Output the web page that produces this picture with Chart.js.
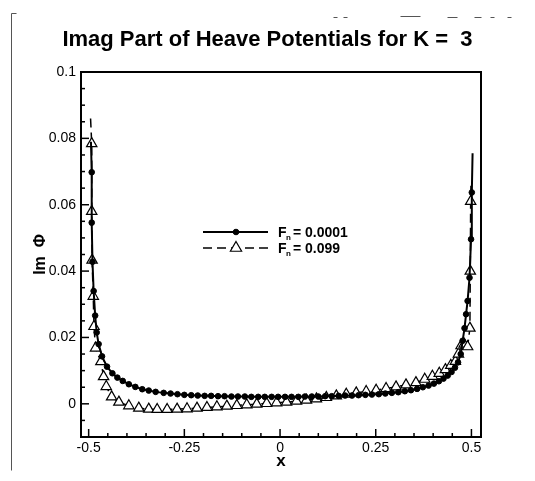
<!DOCTYPE html>
<html>
<head>
<meta charset="utf-8">
<title>Imag Part of Heave Potentials for K = 3</title>
<script src="https://cdn.jsdelivr.net/npm/chart.js@4/dist/chart.umd.min.js"></script>
<style>
  html, body { margin: 0; padding: 0; background: #fff; }
  #chart { display: block; }
</style>
</head>
<body>
<canvas id="chart" width="535" height="481"></canvas>
<script>
// Imag part of heave potentials, K = 3

const FONT = "'Liberation Sans', Arial, Helvetica, sans-serif";

// Fn = 0.0001 (solid line, filled dots)
const x1 = [-0.494, -0.492, -0.492, -0.490, -0.487, -0.483, -0.479, -0.474, -0.465, -0.452,
  -0.438, -0.425, -0.411, -0.395, -0.378, -0.360, -0.343, -0.325, -0.304, -0.286,
  -0.268, -0.250, -0.232, -0.215, -0.197, -0.180, -0.162, -0.145, -0.127, -0.110,
  -0.092, -0.075, -0.057, -0.040, -0.022, -0.005, 0.013, 0.030, 0.048, 0.065,
  0.083, 0.100, 0.118, 0.135, 0.153, 0.170, 0.188, 0.205, 0.223, 0.240,
  0.258, 0.275, 0.292, 0.309, 0.326, 0.342, 0.358, 0.373, 0.388, 0.402,
  0.415, 0.427, 0.438, 0.448, 0.457, 0.465, 0.472, 0.477, 0.482, 0.486,
  0.490, 0.495, 0.499, 0.501, 0.503];
const y1 = [0.079, 0.0698, 0.0546, 0.0428, 0.0340, 0.0266, 0.0215, 0.0180, 0.0143, 0.0112,
  0.0092, 0.0079, 0.0069, 0.0059, 0.0051, 0.0044, 0.0040, 0.0036, 0.0033, 0.0031,
  0.0029, 0.0027, 0.0026, 0.0025, 0.0024, 0.0024, 0.0023, 0.0023, 0.0022, 0.0022,
  0.0022, 0.0021, 0.0021, 0.0021, 0.0021, 0.0021, 0.0021, 0.0021, 0.0021, 0.0022,
  0.0022, 0.0022, 0.0023, 0.0023, 0.0024, 0.0025, 0.0025, 0.0026, 0.0027, 0.0028,
  0.0029, 0.0031, 0.0033, 0.0035, 0.0038, 0.0041, 0.0045, 0.0050, 0.0055, 0.0061,
  0.0068, 0.0076, 0.0085, 0.0096, 0.0109, 0.0125, 0.0150, 0.0190, 0.0228, 0.0270,
  0.0310, 0.0380, 0.0496, 0.0637, 0.0755];

// Fn = 0.099 (dashed line, open triangles)
const x2 = [-0.495, -0.492, -0.492, -0.491, -0.488, -0.486, -0.482, -0.468, -0.461, -0.454,
  -0.440, -0.421, -0.395, -0.369, -0.343, -0.321, -0.295, -0.269, -0.243, -0.217,
  -0.191, -0.165, -0.139, -0.113, -0.087, -0.061, -0.035, -0.009, 0.017, 0.043,
  0.069, 0.095, 0.121, 0.147, 0.173, 0.199, 0.225, 0.251, 0.277, 0.303,
  0.329, 0.355, 0.378, 0.398, 0.416, 0.432, 0.446, 0.458, 0.466, 0.473,
  0.481, 0.490, 0.496, 0.497, 0.498, 0.499];
const y2 = [0.086, 0.0784, 0.058, 0.0433, 0.0324, 0.0233, 0.0168, 0.0127, 0.0082, 0.0052,
  0.0021, 0.0005, -0.0006, -0.0013, -0.0016, -0.0017, -0.0017, -0.0016, -0.0015, -0.0013,
  -0.0011, -0.0009, -0.0007, -0.0005, -0.0003, -0.0001, 0.0001, 0.0003, 0.0005, 0.0008,
  0.0011, 0.0015, 0.0019, 0.0024, 0.0029, 0.0033, 0.0037, 0.0041, 0.0046, 0.0051,
  0.0057, 0.0064, 0.0074, 0.0083, 0.0092, 0.0103, 0.0116, 0.0128, 0.0150, 0.0175,
  0.0180, 0.0172, 0.0228, 0.040, 0.061, 0.067];

const fnValues = ['0.0001', '0.099'];

const xTicks = [-0.5, -0.25, 0, 0.25, 0.5];
const yTicks = [0, 0.02, 0.04, 0.06, 0.08, 0.1];
const xMinorStep = 0.05;
const yMinorStep = 0.005;

const toPoints = (xs, ys) => xs.map((x, i) => ({ x, y: ys[i] }));

// end points of each curve carry no symbol
const hideEnds = (r) => (ctx) => {
  const n = ctx.dataset.data.length;
  return ctx.dataIndex === 0 || ctx.dataIndex === n - 1 ? 0 : r;
};

// stray scanner marks round the figure
const scanMarks = [
  [11, 13, 11, 470], [11, 13, 16, 13],
  [333, 17, 337, 17], [343, 17, 347, 17], [400, 16, 420, 16],
  [447, 17, 457, 17], [474, 17, 481, 17], [490, 17, 494, 17], [507, 17, 511, 17]
];

// plot frame, inward ticks, legend
const framePlugin = {
  id: 'frame',
  beforeDraw(chart) {
    const ctx = chart.ctx;
    ctx.save();
    ctx.strokeStyle = '#555';
    ctx.lineWidth = 1;
    scanMarks.forEach(([a, b, c, d]) => {
      ctx.beginPath();
      ctx.moveTo(a + 0.5, b + 0.5);
      ctx.lineTo(c + 0.5, d + 0.5);
      ctx.stroke();
    });
    ctx.restore();
  },
  afterDatasetsDraw(chart) {
    const { ctx, chartArea: a, scales: { x, y } } = chart;
    ctx.save();
    ctx.strokeStyle = '#000';

    // ticks
    ctx.lineWidth = 1.5;
    const lo = Math.ceil(x.min / xMinorStep - 1e-6);
    const hi = Math.floor(x.max / xMinorStep + 1e-6);
    for (let i = lo; i <= hi; i++) {
      const v = i * xMinorStep;
      const major = xTicks.some((t) => Math.abs(t - v) < 1e-6);
      const px = x.getPixelForValue(v);
      ctx.beginPath();
      ctx.moveTo(px, a.bottom);
      ctx.lineTo(px, a.bottom - (major ? 8 : 4));
      ctx.stroke();
    }
    const ylo = Math.ceil(y.min / yMinorStep - 1e-6);
    const yhi = Math.floor(y.max / yMinorStep + 1e-6);
    for (let i = ylo; i <= yhi; i++) {
      const v = i * yMinorStep;
      const major = yTicks.some((t) => Math.abs(t - v) < 1e-6);
      const py = y.getPixelForValue(v);
      ctx.beginPath();
      ctx.moveTo(a.left, py);
      ctx.lineTo(a.left + (major ? 8 : 4), py);
      ctx.stroke();
    }

    // frame
    ctx.lineWidth = 2;
    ctx.strokeRect(a.left, a.top, a.right - a.left, a.bottom - a.top);

    // legend
    const lx0 = 203, lx1 = 268, mx = 236, tx = 278;
    const rows = [232, 248];
    chart.data.datasets.forEach((ds, i) => {
      const ry = rows[i];
      ctx.save();
      ctx.strokeStyle = ds.borderColor;
      ctx.lineWidth = ds.borderWidth;
      ctx.setLineDash(ds.borderDash || []);
      ctx.beginPath();
      ctx.moveTo(lx0, ry);
      ctx.lineTo(lx1, ry);
      ctx.stroke();
      ctx.restore();
      ctx.save();
      ctx.fillStyle = ds.pointBackgroundColor;
      ctx.strokeStyle = ds.pointBorderColor;
      ctx.lineWidth = ds.pointBorderWidth;
      Chart.helpers.drawPoint(ctx, {
        pointStyle: ds.pointStyle, radius: ds.legendRadius, rotation: 0, borderWidth: ds.pointBorderWidth
      }, mx, ry);
      ctx.restore();

      ctx.fillStyle = '#000';
      ctx.textBaseline = 'alphabetic';
      ctx.textAlign = 'left';
      ctx.font = 'bold 14px ' + FONT;
      ctx.fillText('F', tx, ry + 5);
      const fw = ctx.measureText('F').width;
      ctx.font = 'bold 8px ' + FONT;
      ctx.fillText('n', tx + fw - 0.5, ry + 8);
      const nw = ctx.measureText('n').width;
      ctx.font = 'bold 14px ' + FONT;
      ctx.fillText('= ' + fnValues[i], tx + fw + nw + 1.5, ry + 5);
    });
    ctx.restore();
  }
};

const tickFont = { family: FONT, size: 14 };

new Chart(document.getElementById('chart'), {
  type: 'line',
  data: {
    datasets: [
      {
        label: 'Fn = ' + fnValues[0],
        data: toPoints(x1, y1),
        borderColor: '#000',
        borderWidth: 2,
        pointStyle: 'circle',
        pointRadius: hideEnds(2.8),
        legendRadius: 2.8,
        pointBackgroundColor: '#000',
        pointBorderColor: '#000',
        pointBorderWidth: 1,
        tension: 0,
      },
      {
        label: 'Fn = ' + fnValues[1],
        data: toPoints(x2, y2),
        borderColor: '#000',
        borderWidth: 1.5,
        borderDash: [9, 5],
        pointStyle: 'triangle',
        pointRadius: hideEnds(6),
        legendRadius: 6.5,
        pointBackgroundColor: '#fff',
        pointBorderColor: '#000',
        pointBorderWidth: 1.2,
        tension: 0,
      },
    ],
  },
  options: {
    responsive: false,
    animation: false,
    events: [],
    layout: { padding: 0 },
    plugins: {
      legend: { display: false },
      tooltip: { enabled: false },
      title: {
        display: true,
        text: 'Imag Part of Heave Potentials for K =  3',
        color: '#000',
        font: { family: FONT, size: 22, weight: 'bold' },
        padding: { top: 27, bottom: 18.6 },
      },
    },
    scales: {
      x: {
        type: 'linear',
        min: -0.52,
        max: 0.525,
        afterBuildTicks: (s) => { s.ticks = xTicks.map((v) => ({ value: v })); },
        afterFit: (s) => { s.height = 44; },
        grid: { display: false, drawTicks: false },
        border: { display: false },
        ticks: {
          color: '#000',
          font: tickFont,
          padding: 3,
          maxRotation: 0,
          callback: (v) => String(v),
        },
        title: {
          display: true,
          text: 'x',
          color: '#000',
          font: { family: FONT, size: 17, weight: 'bold' },
          padding: { top: 0, bottom: 9 },
        },
      },
      y: {
        type: 'linear',
        min: -0.01,
        max: 0.1,
        afterBuildTicks: (s) => { s.ticks = yTicks.map((v) => ({ value: v })); },
        afterFit: (s) => { s.width = 81; },
        grid: { display: false, drawTicks: false },
        border: { display: false },
        ticks: {
          color: '#000',
          font: tickFont,
          padding: 5,
          callback: (v) => String(v),
        },
        title: {
          display: true,
          text: 'Im  Φ',
          color: '#000',
          font: { family: FONT, size: 16, weight: 'bold' },
          padding: { top: 31, bottom: 0 },
        },
      },
      yRight: {
        type: 'linear',
        position: 'right',
        display: true,
        grid: { display: false, drawTicks: false },
        border: { display: false },
        ticks: { display: false },
        afterFit: (s) => { s.width = 54; },
      },
    },
  },
  plugins: [framePlugin],
});
</script>
</body>
</html>
